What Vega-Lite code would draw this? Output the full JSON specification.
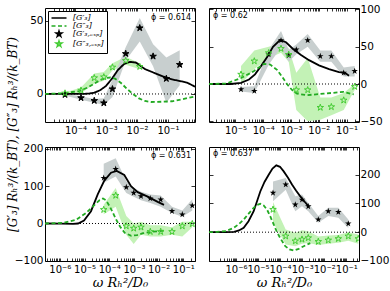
{
"$schema":"https://vega.github.io/schema/vega-lite/v6.json",
"background":"white",
"padding":{"left":5,"top":3,"right":0,"bottom":0},
"config":{
 "view":{"stroke":"black","strokeWidth":1},
 "font":"DejaVu Sans",
 "axis":{"domain":false,"grid":false,"labelFont":"DejaVu Sans","labelFontSize":10.5,"labelColor":"black","tickColor":"black","tickWidth":0.8,"titleFont":"DejaVu Serif","titleFontStyle":"italic","titleFontWeight":"normal","titleColor":"black"},
 "legend":{"orient":"top-left","offset":3,"padding":3,"strokeColor":"black","fillColor":"white","cornerRadius":0,"labelFont":"DejaVu Serif","labelFontStyle":"italic","labelFontSize":8,"labelColor":"black","symbolSize":36,"symbolStrokeWidth":1.5,"rowPadding":-4,"symbolOffset":4,"labelOffset":10}
},
"datasets":{"d":[
{"p":1,"s":"A","x":1.023e-5,"y":0},{"p":1,"s":"A","x":4.24e-5,"y":0},{"p":1,"s":"A","x":1.30e-4,"y":0},{"p":1,"s":"A","x":2.55e-4,"y":0.2},{"p":1,"s":"A","x":3.99e-4,"y":0.8},{"p":1,"s":"A","x":6.25e-4,"y":2.5},{"p":1,"s":"A","x":9.8e-4,"y":5.5},{"p":1,"s":"A","x":1.53e-3,"y":10.5},{"p":1,"s":"A","x":2.40e-3,"y":16.5},{"p":1,"s":"A","x":3.76e-3,"y":20.5},{"p":1,"s":"A","x":5.89e-3,"y":22},{"p":1,"s":"A","x":9.23e-3,"y":21.5},{"p":1,"s":"A","x":1.81e-2,"y":17},{"p":1,"s":"A","x":3.54e-2,"y":14.5},{"p":1,"s":"A","x":6.93e-2,"y":12},{"p":1,"s":"A","x":0.136,"y":10},{"p":1,"s":"A","x":0.267,"y":8.7},{"p":1,"s":"A","x":0.417,"y":7.8},{"p":1,"s":"A","x":0.759,"y":5},
{"p":1,"s":"B","x":1.023e-5,"y":0},{"p":1,"s":"B","x":4.24e-5,"y":0.5},{"p":1,"s":"B","x":1.30e-4,"y":2},{"p":1,"s":"B","x":2.55e-4,"y":4.5},{"p":1,"s":"B","x":3.99e-4,"y":7},{"p":1,"s":"B","x":6.25e-4,"y":9.5},{"p":1,"s":"B","x":9.8e-4,"y":11},{"p":1,"s":"B","x":1.37e-3,"y":11.3},{"p":1,"s":"B","x":1.92e-3,"y":10.5},{"p":1,"s":"B","x":3.01e-3,"y":7.5},{"p":1,"s":"B","x":4.70e-3,"y":3.5},{"p":1,"s":"B","x":7.36e-3,"y":0},{"p":1,"s":"B","x":1.153e-2,"y":-3},{"p":1,"s":"B","x":1.81e-2,"y":-4.8},{"p":1,"s":"B","x":2.83e-2,"y":-5.5},{"p":1,"s":"B","x":6.93e-2,"y":-5.3},{"p":1,"s":"B","x":0.136,"y":-5},{"p":1,"s":"B","x":0.267,"y":-3.8},{"p":1,"s":"B","x":0.759,"y":-1.7},
{"p":1,"s":"C","x":4.57e-5,"y":-0.5,"lo":-1,"hi":0},{"p":1,"s":"C","x":1.51e-4,"y":-2.7,"lo":-4,"hi":-1.5},{"p":1,"s":"C","x":4.07e-4,"y":-4.6,"lo":-6,"hi":-3.5},{"p":1,"s":"C","x":8.32e-4,"y":-6.2,"lo":-7.5,"hi":-3},{"p":1,"s":"C","x":1.585e-3,"y":3.4,"lo":-2,"hi":10},{"p":1,"s":"C","x":4.27e-3,"y":27.6,"lo":23,"hi":32},{"p":1,"s":"C","x":1.22e-2,"y":45.2,"lo":36,"hi":52},{"p":1,"s":"C","x":3.31e-2,"y":25.8,"lo":19,"hi":34},{"p":1,"s":"C","x":8.91e-2,"y":10.5,"lo":-6,"hi":25},{"p":1,"s":"C","x":0.242,"y":20.1,"lo":6,"hi":30},
{"p":1,"s":"D","x":4.57e-5,"y":0.5,"lo":0,"hi":1},{"p":1,"s":"D","x":1.51e-4,"y":2.5,"lo":0.5,"hi":4.5},{"p":1,"s":"D","x":4.07e-4,"y":11,"lo":7,"hi":14},{"p":1,"s":"D","x":8.32e-4,"y":11.6,"lo":9,"hi":15},{"p":1,"s":"D","x":1.585e-3,"y":18.3,"lo":16,"hi":21},{"p":1,"s":"D","x":4.27e-3,"y":22.8,"lo":20,"hi":25.5},{"p":1,"s":"D","x":1.22e-2,"y":18.7,"lo":17,"hi":21},
{"p":2,"s":"A","x":1.122e-6,"y":0},{"p":2,"s":"A","x":6.93e-6,"y":0},{"p":2,"s":"A","x":1.59e-5,"y":1.5},{"p":2,"s":"A","x":3.08e-5,"y":6},{"p":2,"s":"A","x":5.07e-5,"y":13},{"p":2,"s":"A","x":8.32e-5,"y":24},{"p":2,"s":"A","x":1.368e-4,"y":36},{"p":2,"s":"A","x":2.25e-4,"y":50},{"p":2,"s":"A","x":4.02e-4,"y":59},{"p":2,"s":"A","x":6.61e-4,"y":56},{"p":2,"s":"A","x":1.18e-3,"y":47},{"p":2,"s":"A","x":2.29e-3,"y":39},{"p":2,"s":"A","x":4.44e-3,"y":32},{"p":2,"s":"A","x":1.016e-2,"y":25},{"p":2,"s":"A","x":2.33e-2,"y":20},{"p":2,"s":"A","x":5.32e-2,"y":16},{"p":2,"s":"A","x":8.75e-2,"y":15},{"p":2,"s":"A","x":0.122,"y":11},
{"p":2,"s":"B","x":1.122e-6,"y":0},{"p":2,"s":"B","x":4.59e-6,"y":0.5},{"p":2,"s":"B","x":1.59e-5,"y":8},{"p":2,"s":"B","x":4.55e-5,"y":17},{"p":2,"s":"B","x":1.042e-4,"y":27},{"p":2,"s":"B","x":1.80e-4,"y":26},{"p":2,"s":"B","x":3.13e-4,"y":19},{"p":2,"s":"B","x":4.74e-4,"y":10},{"p":2,"s":"B","x":7.18e-4,"y":0},{"p":2,"s":"B","x":1.087e-3,"y":-8},{"p":2,"s":"B","x":1.64e-3,"y":-13},{"p":2,"s":"B","x":3.76e-3,"y":-15},{"p":2,"s":"B","x":1.50e-2,"y":-13},{"p":2,"s":"B","x":7.85e-2,"y":-10.5},{"p":2,"s":"B","x":0.18,"y":-14},
{"p":2,"s":"C","x":1.59e-5,"y":-7.2,"lo":-10,"hi":-4},{"p":2,"s":"C","x":4.79e-5,"y":-9.4,"lo":-12,"hi":-3},{"p":2,"s":"C","x":1.574e-4,"y":39.5,"lo":26,"hi":46},{"p":2,"s":"C","x":4.37e-4,"y":58.6,"lo":49,"hi":71},{"p":2,"s":"C","x":8.26e-4,"y":38.2,"lo":30,"hi":46},{"p":2,"s":"C","x":1.55e-3,"y":46.2,"lo":40,"hi":53},{"p":2,"s":"C","x":3.98e-3,"y":58.6,"lo":50,"hi":67},{"p":2,"s":"C","x":1.13e-2,"y":37.3,"lo":30,"hi":45},{"p":2,"s":"C","x":2.82e-2,"y":37.3,"lo":30,"hi":45},{"p":2,"s":"C","x":7.85e-2,"y":15,"lo":10,"hi":22},{"p":2,"s":"C","x":0.195,"y":17.3,"lo":10,"hi":24},
{"p":2,"s":"D","x":1.59e-5,"y":12.9,"lo":0,"hi":24},{"p":2,"s":"D","x":4.79e-5,"y":30.7,"lo":20,"hi":45},{"p":2,"s":"D","x":1.574e-4,"y":41.7,"lo":35,"hi":50},{"p":2,"s":"D","x":4.37e-4,"y":47.5,"lo":42,"hi":55},{"p":2,"s":"D","x":8.26e-4,"y":39.5,"lo":30,"hi":48},{"p":2,"s":"D","x":1.55e-3,"y":-8,"lo":-35,"hi":15},{"p":2,"s":"D","x":3.98e-3,"y":-8,"lo":-50,"hi":35},{"p":2,"s":"D","x":1.13e-2,"y":-31.6,"lo":-48,"hi":-18},{"p":2,"s":"D","x":2.82e-2,"y":-30.7,"lo":-42,"hi":-18},{"p":2,"s":"D","x":7.85e-2,"y":-21.8,"lo":-35,"hi":-12},{"p":2,"s":"D","x":0.195,"y":-3.6,"lo":-8,"hi":0},
{"p":3,"s":"A","x":2.51e-7,"y":0},{"p":3,"s":"A","x":1.117e-6,"y":-0.5},{"p":3,"s":"A","x":3.42e-6,"y":-1},{"p":3,"s":"A","x":5.45e-6,"y":0},{"p":3,"s":"A","x":9.53e-6,"y":8},{"p":3,"s":"A","x":1.828e-5,"y":33},{"p":3,"s":"A","x":3.42e-5,"y":78},{"p":3,"s":"A","x":6.32e-5,"y":115},{"p":3,"s":"A","x":1.18e-4,"y":136},{"p":3,"s":"A","x":2.01e-4,"y":141},{"p":3,"s":"A","x":4.07e-4,"y":130},{"p":3,"s":"A","x":7.62e-4,"y":100},{"p":3,"s":"A","x":1.422e-3,"y":84},{"p":3,"s":"A","x":3.61e-3,"y":72},{"p":3,"s":"A","x":9.18e-3,"y":58},{"p":3,"s":"A","x":1.652e-2,"y":50},
{"p":3,"s":"B","x":2.51e-7,"y":0},{"p":3,"s":"B","x":1.346e-6,"y":1.5},{"p":3,"s":"B","x":4.52e-6,"y":10},{"p":3,"s":"B","x":1.148e-5,"y":28},{"p":3,"s":"B","x":2.2e-5,"y":46},{"p":3,"s":"B","x":4.12e-5,"y":63},{"p":3,"s":"B","x":5.6e-5,"y":67},{"p":3,"s":"B","x":7.41e-5,"y":62},{"p":3,"s":"B","x":1.045e-4,"y":46},{"p":3,"s":"B","x":1.422e-4,"y":28},{"p":3,"s":"B","x":1.936e-4,"y":10},{"p":3,"s":"B","x":2.73e-4,"y":-8},{"p":3,"s":"B","x":4.24e-4,"y":-25},{"p":3,"s":"B","x":7.83e-4,"y":-33},{"p":3,"s":"B","x":1.334e-3,"y":-31},{"p":3,"s":"B","x":2.33e-3,"y":-26},{"p":3,"s":"B","x":5.93e-3,"y":-22},{"p":3,"s":"B","x":1.652e-2,"y":-19},
{"p":3,"s":"C","x":5.98e-5,"y":122,"lo":109,"hi":160},{"p":3,"s":"C","x":1.828e-4,"y":146,"lo":126,"hi":175},{"p":3,"s":"C","x":4.91e-4,"y":97,"lo":82,"hi":113},{"p":3,"s":"C","x":9.79e-4,"y":82,"lo":72,"hi":95},{"p":3,"s":"C","x":1.936e-3,"y":73,"lo":62,"hi":85},{"p":3,"s":"C","x":4.60e-3,"y":67,"lo":55,"hi":78},{"p":3,"s":"C","x":1.213e-2,"y":64,"lo":45,"hi":75},{"p":3,"s":"C","x":3.48e-2,"y":33,"lo":28,"hi":45},{"p":3,"s":"C","x":9.1e-2,"y":24,"lo":18,"hi":35},{"p":3,"s":"C","x":0.231,"y":48,"lo":35,"hi":65},
{"p":3,"s":"D","x":5.98e-5,"y":37,"lo":25,"hi":50},{"p":3,"s":"D","x":1.828e-4,"y":75,"lo":45,"hi":95},{"p":3,"s":"D","x":4.91e-4,"y":-7,"lo":-30,"hi":20},{"p":3,"s":"D","x":9.79e-4,"y":-13,"lo":-55,"hi":0},{"p":3,"s":"D","x":1.936e-3,"y":-10,"lo":-30,"hi":5},{"p":3,"s":"D","x":4.60e-3,"y":-22,"lo":-35,"hi":-5},{"p":3,"s":"D","x":1.213e-2,"y":-22,"lo":-35,"hi":-5},{"p":3,"s":"D","x":3.48e-2,"y":-22,"lo":-30,"hi":-10},{"p":3,"s":"D","x":9.1e-2,"y":-7,"lo":-35,"hi":5},{"p":3,"s":"D","x":0.231,"y":-1,"lo":-10,"hi":5},
{"p":4,"s":"A","x":6.03e-8,"y":0},{"p":4,"s":"A","x":3.55e-7,"y":0},{"p":4,"s":"A","x":8.18e-7,"y":1},{"p":4,"s":"A","x":1.377e-6,"y":6},{"p":4,"s":"A","x":2.25e-6,"y":15},{"p":4,"s":"A","x":3.72e-6,"y":38},{"p":4,"s":"A","x":6.38e-6,"y":73},{"p":4,"s":"A","x":1.27e-5,"y":142},{"p":4,"s":"A","x":1.972e-5,"y":175},{"p":4,"s":"A","x":3.05e-5,"y":200},{"p":4,"s":"A","x":4.54e-5,"y":222},{"p":4,"s":"A","x":6.75e-5,"y":233},{"p":4,"s":"A","x":9.93e-5,"y":228},{"p":4,"s":"A","x":1.462e-4,"y":212},{"p":4,"s":"A","x":2.29e-4,"y":190},{"p":4,"s":"A","x":3.47e-4,"y":166},{"p":4,"s":"A","x":5.27e-4,"y":145},{"p":4,"s":"A","x":8.26e-4,"y":125},{"p":4,"s":"A","x":1.28e-3,"y":107},{"p":4,"s":"A","x":1.98e-3,"y":90},
{"p":4,"s":"B","x":6.03e-8,"y":0},{"p":4,"s":"B","x":1.387e-7,"y":1},{"p":4,"s":"B","x":3.55e-7,"y":4},{"p":4,"s":"B","x":7.92e-7,"y":15},{"p":4,"s":"B","x":1.336e-6,"y":28},{"p":4,"s":"B","x":2.25e-6,"y":44},{"p":4,"s":"B","x":3.79e-6,"y":65},{"p":4,"s":"B","x":6.38e-6,"y":85},{"p":4,"s":"B","x":9.02e-6,"y":95},{"p":4,"s":"B","x":1.27e-5,"y":99},{"p":4,"s":"B","x":1.81e-5,"y":93},{"p":4,"s":"B","x":2.56e-5,"y":79},{"p":4,"s":"B","x":3.61e-5,"y":55},{"p":4,"s":"B","x":5.15e-5,"y":27},{"p":4,"s":"B","x":7.26e-5,"y":0},{"p":4,"s":"B","x":1.102e-4,"y":-25},{"p":4,"s":"B","x":1.726e-4,"y":-49},{"p":4,"s":"B","x":2.67e-4,"y":-60},{"p":4,"s":"B","x":4.15e-4,"y":-64},{"p":4,"s":"B","x":6.98e-4,"y":-58},{"p":4,"s":"B","x":1.178e-3,"y":-49},{"p":4,"s":"B","x":2.34e-3,"y":-38},
{"p":4,"s":"C","x":4.79e-5,"y":137,"lo":108,"hi":177},{"p":4,"s":"C","x":1.80e-4,"y":166,"lo":148,"hi":189},{"p":4,"s":"C","x":4.9e-4,"y":96,"lo":73,"hi":125},{"p":4,"s":"C","x":9.86e-4,"y":113,"lo":90,"hi":131},{"p":4,"s":"C","x":1.90e-3,"y":90,"lo":73,"hi":102},{"p":4,"s":"C","x":5.40e-3,"y":44,"lo":33,"hi":56},{"p":4,"s":"C","x":1.531e-2,"y":73,"lo":56,"hi":85},{"p":4,"s":"C","x":4.36e-2,"y":70,"lo":50,"hi":85},{"p":4,"s":"C","x":0.1236,"y":30,"lo":15,"hi":44},
{"p":4,"s":"D","x":4.79e-5,"y":79,"lo":35,"hi":105},{"p":4,"s":"D","x":1.80e-4,"y":-14,"lo":-43,"hi":9},{"p":4,"s":"D","x":4.9e-4,"y":-31,"lo":-49,"hi":-2},{"p":4,"s":"D","x":9.86e-4,"y":-25,"lo":-40,"hi":7},{"p":4,"s":"D","x":1.90e-3,"y":-20,"lo":-38,"hi":3},{"p":4,"s":"D","x":5.40e-3,"y":-33,"lo":-45,"hi":-15},{"p":4,"s":"D","x":1.531e-2,"y":-28,"lo":-40,"hi":-12},{"p":4,"s":"D","x":4.36e-2,"y":-23,"lo":-37,"hi":-10},{"p":4,"s":"D","x":0.1236,"y":-14,"lo":-30,"hi":0},{"p":4,"s":"D","x":0.351,"y":-23,"lo":-40,"hi":-8}
]},
"columns":2,
"spacing":{"row":25,"column":14},
"bounds":"flush",
"resolve":{"scale":{"stroke":"independent","fill":"independent","shape":"independent","strokeDash":"independent"},"legend":{"stroke":"independent","fill":"independent","shape":"independent","strokeDash":"independent"}},
"concat":[
{
 "width":150,"height":114,
 "data":{"name":"d"},
 "transform":[{"filter":"datum.p==1"}],
 "resolve":{"axis":{"x":"independent","y":"independent"}},
 "layer":[
  {"transform":[{"filter":"datum.s=='D'"}],
   "mark":{"type":"area","color":"#c3f2b6","clip":true},
   "encoding":{
    "x":{"field":"x","type":"quantitative","scale":{"type":"log","domain":[1.023e-5,0.759],"nice":false},
     "axis":{"orient":"bottom","title":null,"values":[2e-5,3e-5,4e-5,5e-5,6e-5,7e-5,8e-5,9e-5,1e-4,2e-4,3e-4,4e-4,5e-4,6e-4,7e-4,8e-4,9e-4,1e-3,2e-3,3e-3,4e-3,5e-3,6e-3,7e-3,8e-3,9e-3,1e-2,2e-2,3e-2,4e-2,5e-2,6e-2,7e-2,8e-2,9e-2,0.1,0.2,0.3,0.4,0.5,0.6,0.7],
      "labelExpr":"abs(log(datum.value)/LN10-round(log(datum.value)/LN10))<0.01?'10⁻'+['⁰','¹','²','³','⁴','⁵','⁶','⁷','⁸'][-round(log(datum.value)/LN10)]:''",
      "tickSize":-3,"labelPadding":6,"labelFontSize":10,"labelOverlap":false,"labelFlush":false}},
    "y":{"field":"lo","type":"quantitative","scale":{"domain":[-19.2,58.9],"nice":false,"zero":false},
     "axis":{"orient":"left","values":[0,50],"tickSize":-4,"labelPadding":6,
      "title":"[G′₃] Rₕ³/(k_BT),   [G″₃] Rₕ³/(k_BT)","titleX":-33,"titleY":126,"titleFontSize":12,"titleBaseline":"middle","titleAngle":-90}},
    "y2":{"field":"hi"}}},
  {"transform":[{"filter":"datum.s=='C'"}],
   "mark":{"type":"area","color":"#c8cfcf","clip":true},
   "encoding":{
    "x":{"field":"x","type":"quantitative","axis":{"orient":"top","title":null,"labels":false,"tickSize":-3,"values":[2e-5,3e-5,4e-5,5e-5,6e-5,7e-5,8e-5,9e-5,1e-4,2e-4,3e-4,4e-4,5e-4,6e-4,7e-4,8e-4,9e-4,1e-3,2e-3,3e-3,4e-3,5e-3,6e-3,7e-3,8e-3,9e-3,1e-2,2e-2,3e-2,4e-2,5e-2,6e-2,7e-2,8e-2,9e-2,0.1,0.2,0.3,0.4,0.5,0.6,0.7]}},
    "y":{"field":"lo","type":"quantitative","axis":{"orient":"right","title":null,"labels":false,"tickSize":-4,"values":[0,50]}},
    "y2":{"field":"hi"}}},
  {"data":{"values":[{}]},"mark":{"type":"rule","strokeDash":[1,2],"color":"black","strokeWidth":1},
   "encoding":{"y":{"datum":0,"type":"quantitative","axis":null}}},
  {"transform":[{"filter":"datum.s=='A'||datum.s=='B'"}],
   "mark":{"type":"line","strokeWidth":1.8,"clip":true},
   "encoding":{"x":{"field":"x","type":"quantitative","axis":null},"y":{"field":"y","type":"quantitative","axis":null},
    "stroke":{"field":"s","type":"nominal","scale":{"domain":["A","B","C","D"],"range":["black","#22aa22","black","#44cc33"]},
     "legend":{"title":null,"rowPadding":-4,"symbolSize":36,"labelExpr":"datum.value=='A'?'[G′₃]':datum.value=='B'?'[G″₃]':datum.value=='C'?'[G′₃,ₑₓₚ]':'[G″₃,ₑₓₚ]'"}},
    "strokeDash":{"field":"s","type":"nominal","scale":{"domain":["A","B","C","D"],"range":[[1,0],[4,2.5],[1,0],[1,0]]},
     "legend":{"title":null,"rowPadding":-4,"symbolSize":36,"labelExpr":"datum.value=='A'?'[G′₃]':datum.value=='B'?'[G″₃]':datum.value=='C'?'[G′₃,ₑₓₚ]':'[G″₃,ₑₓₚ]'"}}}},
  {"transform":[{"filter":"datum.s=='C'||datum.s=='D'"}],
   "mark":{"type":"point","strokeWidth":1,"size":47,"opacity":1,"clip":true},
   "encoding":{"x":{"field":"x","type":"quantitative","axis":null},"y":{"field":"y","type":"quantitative","axis":null},
    "stroke":{"field":"s","type":"nominal"},
    "fill":{"field":"s","type":"nominal","scale":{"domain":["A","B","C","D"],"range":["transparent","transparent","black","transparent"]},
     "legend":{"title":null,"rowPadding":-4,"symbolSize":36,"labelExpr":"datum.value=='A'?'[G′₃]':datum.value=='B'?'[G″₃]':datum.value=='C'?'[G′₃,ₑₓₚ]':'[G″₃,ₑₓₚ]'"}},
    "shape":{"field":"s","type":"nominal","scale":{"domain":["A","B","C","D"],"range":["M-2.5,0L2.5,0","M-2.5,0L2.5,0","M0,-1L0.2245,-0.309L0.951,-0.309L0.363,0.118L0.588,0.809L0,0.382L-0.588,0.809L-0.363,0.118L-0.951,-0.309L-0.2245,-0.309Z","M0,-1L0.2245,-0.309L0.951,-0.309L0.363,0.118L0.588,0.809L0,0.382L-0.588,0.809L-0.363,0.118L-0.951,-0.309L-0.2245,-0.309Z"]},
     "legend":{"title":null,"rowPadding":-4,"symbolSize":36,"labelExpr":"datum.value=='A'?'[G′₃]':datum.value=='B'?'[G″₃]':datum.value=='C'?'[G′₃,ₑₓₚ]':'[G″₃,ₑₓₚ]'"}}}},
  {"data":{"values":[{}]},"mark":{"type":"text","align":"right","baseline":"middle","fontSize":8,"font":"DejaVu Sans","color":"black"},
   "encoding":{"x":{"datum":0.562,"type":"quantitative","axis":null},"y":{"datum":52,"type":"quantitative","axis":null},"text":{"value":"ϕ = 0.614"}}}
 ]
},
{
 "width":150,"height":114,
 "data":{"name":"d"},
 "transform":[{"filter":"datum.p==2"}],
 "resolve":{"axis":{"x":"independent","y":"independent"}},
 "layer":[
  {"transform":[{"filter":"datum.s=='D'"}],
   "mark":{"type":"area","color":"#c3f2b6","clip":true},
   "encoding":{
    "x":{"field":"x","type":"quantitative","scale":{"type":"log","domain":[1.122e-6,0.279],"nice":false},
     "axis":{"orient":"bottom","title":null,"values":[2e-6,3e-6,4e-6,5e-6,6e-6,7e-6,8e-6,9e-6,1e-5,2e-5,3e-5,4e-5,5e-5,6e-5,7e-5,8e-5,9e-5,1e-4,2e-4,3e-4,4e-4,5e-4,6e-4,7e-4,8e-4,9e-4,1e-3,2e-3,3e-3,4e-3,5e-3,6e-3,7e-3,8e-3,9e-3,1e-2,2e-2,3e-2,4e-2,5e-2,6e-2,7e-2,8e-2,9e-2,0.1,0.2],
      "labelExpr":"abs(log(datum.value)/LN10-round(log(datum.value)/LN10))<0.01?'10⁻'+['⁰','¹','²','³','⁴','⁵','⁶','⁷','⁸'][-round(log(datum.value)/LN10)]:''",
      "tickSize":-3,"labelPadding":6,"labelFontSize":10,"labelOverlap":false,"labelFlush":false}},
    "y":{"field":"lo","type":"quantitative","scale":{"domain":[-51,102],"nice":false,"zero":false},
     "axis":{"orient":"right","values":[-50,0,50,100],"tickSize":-4,"labelPadding":5,"title":null}},
    "y2":{"field":"hi"}}},
  {"transform":[{"filter":"datum.s=='C'"}],
   "mark":{"type":"area","color":"#c8cfcf","clip":true},
   "encoding":{
    "x":{"field":"x","type":"quantitative","axis":{"orient":"top","title":null,"labels":false,"tickSize":-3,"values":[2e-6,3e-6,4e-6,5e-6,6e-6,7e-6,8e-6,9e-6,1e-5,2e-5,3e-5,4e-5,5e-5,6e-5,7e-5,8e-5,9e-5,1e-4,2e-4,3e-4,4e-4,5e-4,6e-4,7e-4,8e-4,9e-4,1e-3,2e-3,3e-3,4e-3,5e-3,6e-3,7e-3,8e-3,9e-3,1e-2,2e-2,3e-2,4e-2,5e-2,6e-2,7e-2,8e-2,9e-2,0.1,0.2]}},
    "y":{"field":"lo","type":"quantitative","axis":{"orient":"left","title":null,"labels":false,"tickSize":-4,"values":[-50,0,50,100]}},
    "y2":{"field":"hi"}}},
  {"data":{"values":[{}]},"mark":{"type":"rule","strokeDash":[1,2],"color":"black","strokeWidth":1},
   "encoding":{"y":{"datum":0,"type":"quantitative","axis":null}}},
  {"transform":[{"filter":"datum.s=='A'"}],
   "mark":{"type":"line","strokeWidth":1.8,"color":"black","clip":true},
   "encoding":{"x":{"field":"x","type":"quantitative","axis":null},"y":{"field":"y","type":"quantitative","axis":null}}},
  {"transform":[{"filter":"datum.s=='B'"}],
   "mark":{"type":"line","strokeWidth":1.8,"strokeDash":[4,2.5],"color":"#22aa22","clip":true},
   "encoding":{"x":{"field":"x","type":"quantitative","axis":null},"y":{"field":"y","type":"quantitative","axis":null}}},
  {"transform":[{"filter":"datum.s=='C'"}],
   "mark":{"type":"point","shape":"M0,-1L0.2245,-0.309L0.951,-0.309L0.363,0.118L0.588,0.809L0,0.382L-0.588,0.809L-0.363,0.118L-0.951,-0.309L-0.2245,-0.309Z","filled":true,"size":47,"opacity":1,"color":"black","clip":true},
   "encoding":{"x":{"field":"x","type":"quantitative","axis":null},"y":{"field":"y","type":"quantitative","axis":null}}},
  {"transform":[{"filter":"datum.s=='D'"}],
   "mark":{"type":"point","shape":"M0,-1L0.2245,-0.309L0.951,-0.309L0.363,0.118L0.588,0.809L0,0.382L-0.588,0.809L-0.363,0.118L-0.951,-0.309L-0.2245,-0.309Z","filled":false,"strokeWidth":1,"size":47,"opacity":1,"color":"#44cc33","clip":true},
   "encoding":{"x":{"field":"x","type":"quantitative","axis":null},"y":{"field":"y","type":"quantitative","axis":null}}},
  {"data":{"values":[{}]},"mark":{"type":"text","align":"left","baseline":"middle","fontSize":8,"font":"DejaVu Sans","color":"black"},
   "encoding":{"x":{"datum":1.563e-6,"type":"quantitative","axis":null},"y":{"datum":91,"type":"quantitative","axis":null},"text":{"value":"ϕ = 0.62"}}}
 ]
},
{
 "width":150,"height":114,
 "data":{"name":"d"},
 "transform":[{"filter":"datum.p==3"}],
 "resolve":{"axis":{"x":"independent","y":"independent"}},
 "layer":[
  {"transform":[{"filter":"datum.s=='D'"}],
   "mark":{"type":"area","color":"#c3f2b6","clip":true},
   "encoding":{
    "x":{"field":"x","type":"quantitative","scale":{"type":"log","domain":[2.51e-7,0.297],"nice":false},
     "axis":{"orient":"bottom","title":"ω Rₕ²/D₀","titleFontSize":13,"titlePadding":2,"values":[3e-7,4e-7,5e-7,6e-7,7e-7,8e-7,9e-7,1e-6,2e-6,3e-6,4e-6,5e-6,6e-6,7e-6,8e-6,9e-6,1e-5,2e-5,3e-5,4e-5,5e-5,6e-5,7e-5,8e-5,9e-5,1e-4,2e-4,3e-4,4e-4,5e-4,6e-4,7e-4,8e-4,9e-4,1e-3,2e-3,3e-3,4e-3,5e-3,6e-3,7e-3,8e-3,9e-3,1e-2,2e-2,3e-2,4e-2,5e-2,6e-2,7e-2,8e-2,9e-2,0.1,0.2],
      "labelExpr":"abs(log(datum.value)/LN10-round(log(datum.value)/LN10))<0.01?'10⁻'+['⁰','¹','²','³','⁴','⁵','⁶','⁷','⁸'][-round(log(datum.value)/LN10)]:''",
      "tickSize":-3,"labelPadding":6,"labelFontSize":10,"labelOverlap":false,"labelFlush":false}},
    "y":{"field":"lo","type":"quantitative","scale":{"domain":[-100.5,205],"nice":false,"zero":false},
     "axis":{"orient":"left","values":[-100,0,100,200],"tickSize":-4,"labelPadding":6,"title":null}},
    "y2":{"field":"hi"}}},
  {"transform":[{"filter":"datum.s=='C'"}],
   "mark":{"type":"area","color":"#c8cfcf","clip":true},
   "encoding":{
    "x":{"field":"x","type":"quantitative","axis":{"orient":"top","title":null,"labels":false,"tickSize":-3,"values":[3e-7,4e-7,5e-7,6e-7,7e-7,8e-7,9e-7,1e-6,2e-6,3e-6,4e-6,5e-6,6e-6,7e-6,8e-6,9e-6,1e-5,2e-5,3e-5,4e-5,5e-5,6e-5,7e-5,8e-5,9e-5,1e-4,2e-4,3e-4,4e-4,5e-4,6e-4,7e-4,8e-4,9e-4,1e-3,2e-3,3e-3,4e-3,5e-3,6e-3,7e-3,8e-3,9e-3,1e-2,2e-2,3e-2,4e-2,5e-2,6e-2,7e-2,8e-2,9e-2,0.1,0.2]}},
    "y":{"field":"lo","type":"quantitative","axis":{"orient":"right","title":null,"labels":false,"tickSize":-4,"values":[-100,0,100,200]}},
    "y2":{"field":"hi"}}},
  {"data":{"values":[{}]},"mark":{"type":"rule","strokeDash":[1,2],"color":"black","strokeWidth":1},
   "encoding":{"y":{"datum":0,"type":"quantitative","axis":null}}},
  {"transform":[{"filter":"datum.s=='A'"}],
   "mark":{"type":"line","strokeWidth":1.8,"color":"black","clip":true},
   "encoding":{"x":{"field":"x","type":"quantitative","axis":null},"y":{"field":"y","type":"quantitative","axis":null}}},
  {"transform":[{"filter":"datum.s=='B'"}],
   "mark":{"type":"line","strokeWidth":1.8,"strokeDash":[4,2.5],"color":"#22aa22","clip":true},
   "encoding":{"x":{"field":"x","type":"quantitative","axis":null},"y":{"field":"y","type":"quantitative","axis":null}}},
  {"transform":[{"filter":"datum.s=='C'"}],
   "mark":{"type":"point","shape":"M0,-1L0.2245,-0.309L0.951,-0.309L0.363,0.118L0.588,0.809L0,0.382L-0.588,0.809L-0.363,0.118L-0.951,-0.309L-0.2245,-0.309Z","filled":true,"size":47,"opacity":1,"color":"black","clip":true},
   "encoding":{"x":{"field":"x","type":"quantitative","axis":null},"y":{"field":"y","type":"quantitative","axis":null}}},
  {"transform":[{"filter":"datum.s=='D'"}],
   "mark":{"type":"point","shape":"M0,-1L0.2245,-0.309L0.951,-0.309L0.363,0.118L0.588,0.809L0,0.382L-0.588,0.809L-0.363,0.118L-0.951,-0.309L-0.2245,-0.309Z","filled":false,"strokeWidth":1,"size":47,"opacity":1,"color":"#44cc33","clip":true},
   "encoding":{"x":{"field":"x","type":"quantitative","axis":null},"y":{"field":"y","type":"quantitative","axis":null}}},
  {"data":{"values":[{}]},"mark":{"type":"text","align":"right","baseline":"middle","fontSize":8,"font":"DejaVu Sans","color":"black"},
   "encoding":{"x":{"datum":0.205,"type":"quantitative","axis":null},"y":{"datum":181,"type":"quantitative","axis":null},"text":{"value":"ϕ = 0.631"}}}
 ]
},
{
 "width":150,"height":114,
 "data":{"name":"d"},
 "transform":[{"filter":"datum.p==4"}],
 "resolve":{"axis":{"x":"independent","y":"independent"}},
 "layer":[
  {"transform":[{"filter":"datum.s=='D'"}],
   "mark":{"type":"area","color":"#c3f2b6","clip":true},
   "encoding":{
    "x":{"field":"x","type":"quantitative","scale":{"type":"log","domain":[6.03e-8,0.377],"nice":false},
     "axis":{"orient":"bottom","title":"ω Rₕ²/D₀","titleFontSize":13,"titlePadding":2,"values":[2e-7,3e-7,4e-7,5e-7,6e-7,7e-7,8e-7,9e-7,1e-6,2e-6,3e-6,4e-6,5e-6,6e-6,7e-6,8e-6,9e-6,1e-5,2e-5,3e-5,4e-5,5e-5,6e-5,7e-5,8e-5,9e-5,1e-4,2e-4,3e-4,4e-4,5e-4,6e-4,7e-4,8e-4,9e-4,1e-3,2e-3,3e-3,4e-3,5e-3,6e-3,7e-3,8e-3,9e-3,1e-2,2e-2,3e-2,4e-2,5e-2,6e-2,7e-2,8e-2,9e-2,0.1,0.2,0.3],
      "labelExpr":"abs(log(datum.value)/LN10-round(log(datum.value)/LN10))<0.01?'10⁻'+['⁰','¹','²','³','⁴','⁵','⁶','⁷','⁸'][-round(log(datum.value)/LN10)]:''",
      "tickSize":-3,"labelPadding":6,"labelFontSize":10,"labelOverlap":false,"labelFlush":false}},
    "y":{"field":"lo","type":"quantitative","scale":{"domain":[-100.5,297],"nice":false,"zero":false},
     "axis":{"orient":"right","values":[-100,0,100,200,300],"tickSize":-4,"labelPadding":5,"title":null}},
    "y2":{"field":"hi"}}},
  {"transform":[{"filter":"datum.s=='C'"}],
   "mark":{"type":"area","color":"#c8cfcf","clip":true},
   "encoding":{
    "x":{"field":"x","type":"quantitative","axis":{"orient":"top","title":null,"labels":false,"tickSize":-3,"values":[2e-7,3e-7,4e-7,5e-7,6e-7,7e-7,8e-7,9e-7,1e-6,2e-6,3e-6,4e-6,5e-6,6e-6,7e-6,8e-6,9e-6,1e-5,2e-5,3e-5,4e-5,5e-5,6e-5,7e-5,8e-5,9e-5,1e-4,2e-4,3e-4,4e-4,5e-4,6e-4,7e-4,8e-4,9e-4,1e-3,2e-3,3e-3,4e-3,5e-3,6e-3,7e-3,8e-3,9e-3,1e-2,2e-2,3e-2,4e-2,5e-2,6e-2,7e-2,8e-2,9e-2,0.1,0.2,0.3]}},
    "y":{"field":"lo","type":"quantitative","axis":{"orient":"left","title":null,"labels":false,"tickSize":-4,"values":[-100,0,100,200,300]}},
    "y2":{"field":"hi"}}},
  {"data":{"values":[{}]},"mark":{"type":"rule","strokeDash":[1,2],"color":"black","strokeWidth":1},
   "encoding":{"y":{"datum":0,"type":"quantitative","axis":null}}},
  {"transform":[{"filter":"datum.s=='A'"}],
   "mark":{"type":"line","strokeWidth":1.8,"color":"black","clip":true},
   "encoding":{"x":{"field":"x","type":"quantitative","axis":null},"y":{"field":"y","type":"quantitative","axis":null}}},
  {"transform":[{"filter":"datum.s=='B'"}],
   "mark":{"type":"line","strokeWidth":1.8,"strokeDash":[4,2.5],"color":"#22aa22","clip":true},
   "encoding":{"x":{"field":"x","type":"quantitative","axis":null},"y":{"field":"y","type":"quantitative","axis":null}}},
  {"transform":[{"filter":"datum.s=='C'"}],
   "mark":{"type":"point","shape":"M0,-1L0.2245,-0.309L0.951,-0.309L0.363,0.118L0.588,0.809L0,0.382L-0.588,0.809L-0.363,0.118L-0.951,-0.309L-0.2245,-0.309Z","filled":true,"size":47,"opacity":1,"color":"black","clip":true},
   "encoding":{"x":{"field":"x","type":"quantitative","axis":null},"y":{"field":"y","type":"quantitative","axis":null}}},
  {"transform":[{"filter":"datum.s=='D'"}],
   "mark":{"type":"point","shape":"M0,-1L0.2245,-0.309L0.951,-0.309L0.363,0.118L0.588,0.809L0,0.382L-0.588,0.809L-0.363,0.118L-0.951,-0.309L-0.2245,-0.309Z","filled":false,"strokeWidth":1,"size":47,"opacity":1,"color":"#44cc33","clip":true},
   "encoding":{"x":{"field":"x","type":"quantitative","axis":null},"y":{"field":"y","type":"quantitative","axis":null}}},
  {"data":{"values":[{}]},"mark":{"type":"text","align":"left","baseline":"middle","fontSize":8,"font":"DejaVu Sans","color":"black"},
   "encoding":{"x":{"datum":9.14e-8,"type":"quantitative","axis":null},"y":{"datum":273,"type":"quantitative","axis":null},"text":{"value":"ϕ = 0.637"}}}
 ]
}
]
}
